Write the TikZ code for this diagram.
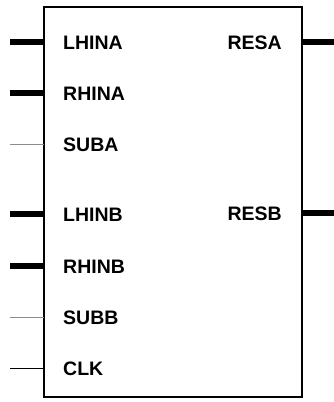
\documentclass[tikz,border=0pt]{standalone}
\usepackage{fontspec}
\setmainfont{Liberation Sans}
\begin{document}
\begin{tikzpicture}[x=1pt,y=-1pt,
  lbl/.style={font=\fontsize{19.5}{22}\selectfont\bfseries, inner sep=0pt},
  bus/.style={line width=5.5pt},
  sig/.style={line width=1pt, black},
  sub/.style={line width=1pt, gray!90},
  blk/.style={draw, line width=2pt, minimum width=258pt, minimum height=390pt, inner sep=0pt}]
\useasboundingbox (0,0) rectangle (334,402);
\node[blk] (box) at (173,202) {};
% left pins
\foreach \n/\y in {lhina/42, rhina/93, suba/144, lhinb/214, rhinb/266, subb/317, clk/368}{
  \coordinate (\n-in) at (44,\y);
  \coordinate (\n-out) at (10,\y);
}
\foreach \n/\y in {resa/42, resb/213}{
  \coordinate (\n-in) at (302,\y);
  \coordinate (\n-out) at (334,\y);
}
\draw[bus] (lhina-out) -- (lhina-in);
\draw[bus] (rhina-out) -- (rhina-in);
\draw[sub] (suba-out) -- (suba-in);
\draw[bus] (lhinb-out) -- (lhinb-in);
\draw[bus] (rhinb-out) -- (rhinb-in);
\draw[sub] (subb-out) -- (subb-in);
\draw[sig] (clk-out) -- (clk-in);
\draw[bus] (resa-in) -- (resa-out);
\draw[bus] (resb-in) -- (resb-out);
% labels
\node[lbl, anchor=base west] (t1) at (63,49) {LHINA};
\node[lbl, anchor=base west] (t2) at (63,100) {RHINA};
\node[lbl, anchor=base west] (t3) at (63,151) {SUBA};
\node[lbl, anchor=base west] (t4) at (63,221) {LHINB};
\node[lbl, anchor=base west] (t5) at (63,273) {RHINB};
\node[lbl, anchor=base west] (t6) at (63,324) {SUBB};
\node[lbl, anchor=base west] (t7) at (63,375) {CLK};
\node[lbl, anchor=base east] (t8) at (282,49) {RESA};
\node[lbl, anchor=base east] (t9) at (282,220) {RESB};
\end{tikzpicture}
\end{document}
